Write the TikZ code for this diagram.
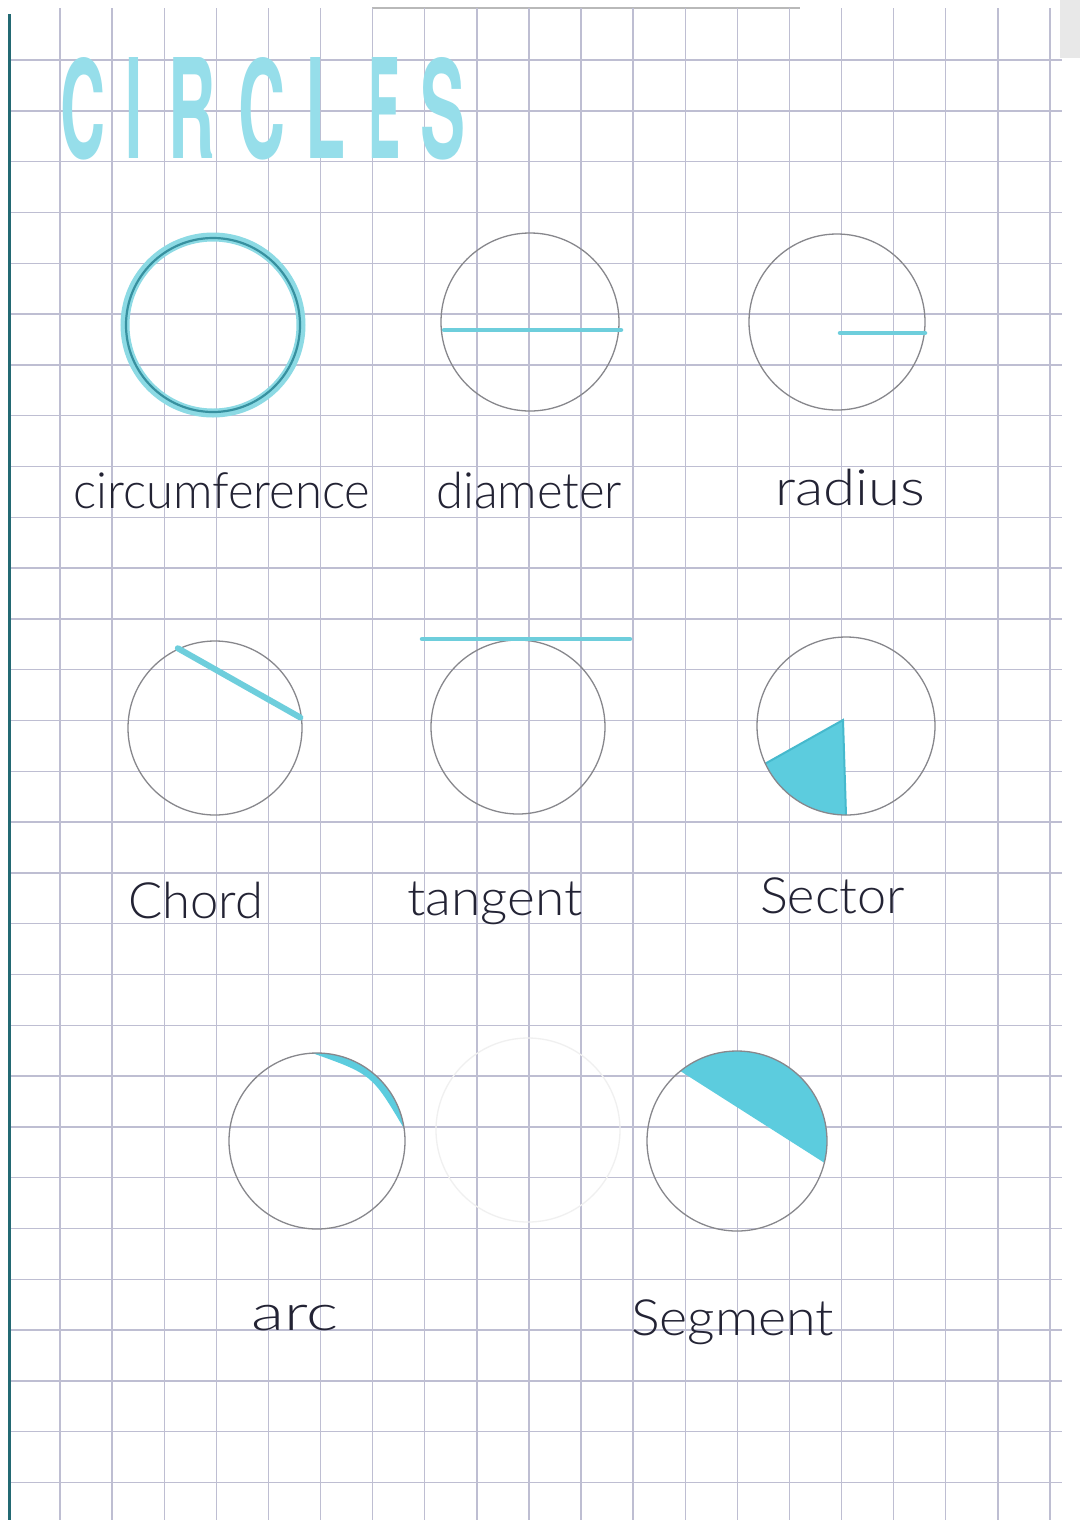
\documentclass[tikz,border=0pt]{standalone}
\usepackage{fontspec}
\usepackage{graphicx}
\usetikzlibrary{calc}
\newfontfamily\hand{Lato Light}
\newfontfamily\titlefont{TeX Gyre Heros}
\definecolor{gridc}{RGB}{190,190,210}
\definecolor{pencilc}{RGB}{135,135,140}
\definecolor{hlc}{RGB}{110,206,220}
\definecolor{hlfill}{RGB}{92,204,222}
\definecolor{hldark}{RGB}{70,185,205}
\definecolor{glowc}{RGB}{140,218,228}
\definecolor{inkteal}{RGB}{55,145,160}
\definecolor{inkc}{RGB}{35,35,52}
\definecolor{titlec}{RGB}{150,222,234}
\definecolor{edgec}{RGB}{35,105,115}
\begin{document}
\begin{tikzpicture}[x=1pt,y=-1pt,
  gridline/.style={draw=gridc,line width=1.4pt},
  pencilline/.style={draw=pencilc,line width=1.3pt},
  hlline/.style={draw=hlc,line width=4.5pt,line cap=round},
  lbl/.style={inner sep=0pt,anchor=base west,text=inkc,font=\hand\fontsize{50}{56}\selectfont},
  tletter/.style={inner sep=0pt,anchor=north west,text=titlec,font=\titlefont\bfseries\fontsize{140}{150}\selectfont}]
\useasboundingbox (0,0) rectangle (1080,1527);
\fill[white] (0,0) rectangle (1080,1527);
% paper edges
\fill[gray!18] (1060,0) rectangle (1080,58);
\draw[gray!55,line width=2pt] (372,8) -- (800,8);
% grid
\foreach \k in {0,...,28} \draw[gridline] (10,{60+50.8*\k}) -- (1062,{60+50.8*\k});
\foreach \k in {0,...,19} \draw[gridline] ({60+52.1*\k},8) -- ({60+52.1*\k},1520);
\draw[edgec,line width=3pt] (9,14) -- (9,1520);
% title
\foreach \xa/\lw/\lt [count=\i] in {60/45/C,125/17/I,168/47/R,238/47/C,305/40/L,368/32/E,420/45/S}
  \node[tletter] (t\i) at (\xa,57) {\resizebox{\lw pt}{101pt}{\lt}};
% centers
\coordinate (ccirc) at (213,325);
\coordinate (cdia) at (530,322);
\coordinate (crad) at (837,322);
\coordinate (cchord) at (215,728);
\coordinate (ctan) at (518,727);
\coordinate (csec) at (846,726);
\coordinate (carc) at (317,1141);
\coordinate (cghost) at (528,1130);
\coordinate (cseg) at (737,1141);
% ghost circle (show-through)
\draw[gray!12,line width=1.3pt] (cghost) circle[radius=92];
% circumference
\draw[glowc,line width=9pt] (ccirc) circle[radius=88];
\draw[inkteal,line width=2.2pt] (ccirc) circle[radius=87];
% diameter
\draw[pencilline] (cdia) circle[radius=89];
\draw[hlline] ($(cdia)+(-86,8)$) -- ($(cdia)+(91,8)$);
% radius
\draw[pencilline] (crad) circle[radius=88];
\draw[hlline] ($(crad)+(3,11)$) -- ($(crad)+(88,11)$);
% chord
\draw[pencilline] (cchord) circle[radius=87];
\draw[hlline,line width=6pt] ($(cchord)+(-115:88)$) -- ($(cchord)+(-7:86)$);
% tangent
\draw[pencilline] (ctan) circle[radius=87];
\draw[hlline] ($(ctan)+(-96,-88)$) -- ($(ctan)+(112,-88)$);
% sector
\coordinate (apex) at (843,720);
\fill[hlfill] (apex) -- ($(csec)+(155:89)$) arc[start angle=155,end angle=90,radius=89] -- cycle;
\draw[hldark,line width=2pt] ($(csec)+(155:89)$) -- (apex) -- ($(csec)+(90:89)$);
\draw[pencilline] (csec) circle[radius=89];
% arc
\fill[hlfill] ($(carc)+(-93:88)$) arc[start angle=-93,end angle=-8,radius=88]
   .. controls ($(carc)+(54.9,-66.7)$) .. ($(carc)+(-93:88)$);
\draw[pencilline] (carc) circle[radius=88];
% segment
\fill[hlfill] ($(cseg)+(-129:90)$) arc[start angle=-129,end angle=14,radius=90] -- cycle;
\draw[pencilline] (cseg) circle[radius=90];
% labels
\node[lbl] (lcirc) at (73,508) {\resizebox{297pt}{\height}{circumference}};
\node[lbl] (ldia) at (436,508) {\resizebox{186pt}{\height}{diameter}};
\node[lbl] (lrad) at (775,505) {\resizebox{150pt}{\height}{radius}};
\node[lbl] (lchord) at (128,918) {\resizebox{135pt}{\height}{Chord}};
\node[lbl] (ltan) at (407,915) {\resizebox{175pt}{\height}{tangent}};
\node[lbl] (lsec) at (760,913) {\resizebox{145pt}{\height}{Sector}};
\node[lbl] (larc) at (251,1330) {\resizebox{87pt}{\height}{arc}};
\node[lbl] (lseg) at (631,1335) {\resizebox{203pt}{\height}{Segment}};
\end{tikzpicture}
\end{document}
